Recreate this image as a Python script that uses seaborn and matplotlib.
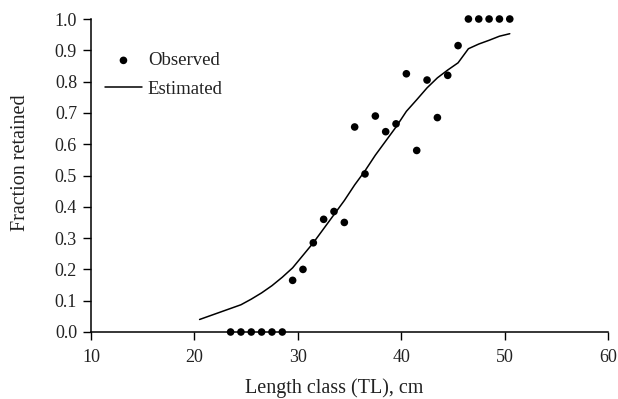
import matplotlib
matplotlib.use("Agg")
import matplotlib.pyplot as plt
import seaborn as sns
import pandas as pd
import numpy as np

obs_length = [23.5, 24.5, 25.5, 26.5, 27.5, 28.5, 29.5, 30.5, 31.5, 32.5, 33.5, 34.5,
              35.5, 36.5, 37.5, 38.5, 39.5, 40.5, 41.5, 42.5, 43.5, 44.5, 45.5,
              46.5, 47.5, 48.5, 49.5, 50.5]
obs_fraction = [0.0, 0.0, 0.0, 0.0, 0.0, 0.0, 0.165, 0.20, 0.285, 0.36, 0.385, 0.35,
                0.655, 0.505, 0.69, 0.64, 0.665, 0.825, 0.58, 0.805, 0.685, 0.82, 0.915,
                1.0, 1.0, 1.0, 1.0, 1.0]

est_length = [20.5, 24.5, 25.5, 26.5, 27.5, 28.5, 29.5, 30.5, 31.5, 32.5, 33.5, 34.5,
              35.5, 36.5, 37.5, 38.5, 39.5, 40.5, 41.5, 42.5, 43.5, 44.5, 45.5,
              46.5, 47.5, 48.5, 49.5, 50.5]
est_fraction = [0.040, 0.087, 0.105, 0.125, 0.148, 0.175, 0.205, 0.245, 0.285, 0.330,
                0.375, 0.420, 0.470, 0.515, 0.565, 0.610, 0.655, 0.705, 0.742, 0.780,
                0.812, 0.837, 0.860, 0.905, 0.920, 0.932, 0.945, 0.953]

x_ticks = [10, 20, 30, 40, 50, 60]
y_ticks = [0.0, 0.1, 0.2, 0.3, 0.4, 0.5, 0.6, 0.7, 0.8, 0.9, 1.0]

sns.set_style("ticks")
plt.rcParams["font.family"] = ["Liberation Serif", "DejaVu Serif"]

df_obs = pd.DataFrame({"len": obs_length, "frac": obs_fraction})
df_est = pd.DataFrame({"len": est_length, "frac": est_fraction})

fig = plt.figure(figsize=(6.18, 3.99), dpi=100)
ax = fig.add_axes([91/618, 1 - 332/399, (608 - 91)/618, (332 - 19)/399])

sns.lineplot(data=df_est, x="len", y="frac", ax=ax, color="black", linewidth=1.1,
             label="Estimated", sort=False)
sns.scatterplot(data=df_obs, x="len", y="frac", ax=ax, color="black", s=30,
                edgecolor="none", label="Observed", zorder=3, clip_on=False)

ax.set_xlim(10, 60)
ax.set_ylim(0, 1.0)
ax.set_xticks(x_ticks)
ax.set_yticks(y_ticks)
ax.set_yticklabels([f"{v:.1f}" for v in y_ticks])
ax.tick_params(axis="both", labelsize=13, length=6, width=1, color="black",
               labelcolor="#222222")
ax.tick_params(axis="y", pad=4)
ax.tick_params(axis="x", pad=6)
for s in ["top", "right"]:
    ax.spines[s].set_visible(False)
for s in ["left", "bottom"]:
    ax.spines[s].set_linewidth(1.1)
    ax.spines[s].set_color("black")

ax.set_xlabel("Length class (TL), cm", fontsize=14.5, color="#222222")
ax.xaxis.set_label_coords((334 - 91) / 517, -0.148)
ax.set_ylabel("Fraction retained", fontsize=14.5, color="#222222")
ax.yaxis.set_label_coords(-(91 - 30) / 517, (332 - 163) / 313)

handles, labels = ax.get_legend_handles_labels()
order = [labels.index("Observed"), labels.index("Estimated")]
leg = ax.legend([handles[i] for i in order], [labels[i] for i in order],
                frameon=False, loc="upper left", bbox_to_anchor=(0.012, 0.918),
                fontsize=13.5, handlelength=2.0, handletextpad=0.3,
                labelspacing=0.62, borderaxespad=0)
for t in leg.get_texts():
    t.set_color("#222222")

fig.savefig("out.png", dpi=100)
